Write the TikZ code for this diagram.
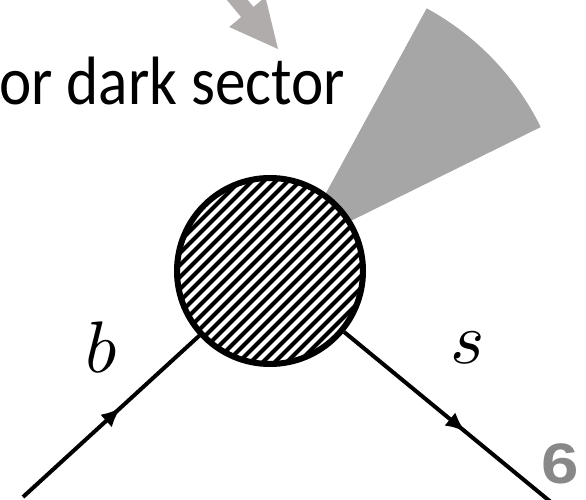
\documentclass[tikz,border=0pt]{standalone}
\usepackage{fontspec}
\setmainfont{Carlito}
\newfontfamily\numfont{Liberation Sans}
\usetikzlibrary{arrows.meta,decorations.markings,calc}
\definecolor{wedgegray}{RGB}{166,166,166}
\definecolor{arrowgray}{RGB}{176,172,171}
\definecolor{numgray}{RGB}{136,136,136}
\tikzset{
  fermion/.style={line width=4pt, postaction={decorate},
    decoration={markings, mark=at position #1 with {\arrow{Latex[length=20pt,width=17pt]}}}},
  blob/.style={circle, draw, line width=6pt, fill=white, minimum size=186pt, inner sep=0pt,
    path picture={
      \foreach \k in {-204,-192,...,204}
        \draw[line width=4pt] ($(path picture bounding box.center)+(\k-110,110)$) -- ++(220,-220);
    }},
  lbl/.style={inner sep=0pt, scale=7.3},
}
\begin{document}
\begin{tikzpicture}[x=1pt,y=-1pt]
\useasboundingbox (0,0) rectangle (586,500);
\clip (0,0) rectangle (586,500);
% dark sector cone
\fill[wedgegray] (296,248) -- ++(-61.4:273) arc[start angle=-61.4, end angle=-26.3, radius=273] -- cycle;
% block arrow at top
\fill[arrowgray] (202.7,-29.1) -- (241.1,17.1) -- (229.2,27) -- (278,49) -- (265.4,-3) -- (253.5,6.9) -- (215.1,-39.3) -- cycle;
% text
\node[anchor=base west, inner sep=0pt, xscale=1.02, yscale=1.14, font=\fontsize{60}{70}\selectfont] (txt) at (-1,105) {or dark sector};
% vertex
\node[blob] (v) at (270,271) {};
\coordinate (bstart) at (23,497);
\coordinate (send) at (552,503);
\draw[fermion=0.556] (bstart) -- (v);
\draw[fermion=0.584] (v) -- (send);
\node[lbl] (lb) at (101,347) {$b$};
\node[lbl] (ls) at (468,348) {$s$};
\node[anchor=base east, inner sep=0pt, xscale=1.18, text=numgray, font=\numfont\bfseries\fontsize{57}{64}\selectfont] (pg) at (579,483) {6};
\end{tikzpicture}
\end{document}
